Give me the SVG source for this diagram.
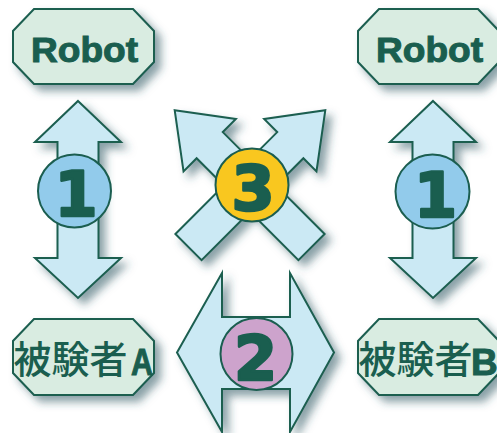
<svg xmlns="http://www.w3.org/2000/svg" width="497" height="433" viewBox="0 0 497 433">
<defs>
<filter id="sh" x="-30%" y="-30%" width="160%" height="160%">
<feGaussianBlur in="SourceAlpha" stdDeviation="4"/>
<feOffset dx="6" dy="6" result="b"/>
<feFlood flood-color="#2b5560" flood-opacity="0.55"/>
<feComposite in2="b" operator="in"/>
<feMerge><feMergeNode/><feMergeNode in="SourceGraphic"/></feMerge>
</filter>
</defs>
<style>
.box{fill:#d9ece1;stroke:#1b5e50;stroke-width:2;filter:url(#sh)}
.arr{fill:#cbe9f4;stroke:#1b5e50;stroke-width:2;stroke-linejoin:miter}
.shd{filter:url(#sh)}
.circ{stroke:#1b5e50;stroke-width:2}
.lbl{font-family:"Liberation Sans",Arial,sans-serif;font-weight:bold;fill:#1a5e4f;stroke:#1a5e4f;stroke-width:1}
.cjk{font-family:"Noto Sans CJK JP","Noto Sans CJK SC",sans-serif;font-weight:500;fill:#1a5e4f}
.num{font-family:"DejaVu Sans",sans-serif;font-weight:bold;font-size:62px;fill:#1a5e4f;stroke:#1a5e4f;stroke-width:2.5;stroke-linejoin:round;text-anchor:middle}
</style>
<rect width="497" height="433" fill="#ffffff"/>
<g id="connectors">
<g id="arrow-1-left">
<path class="arr shd" d="M78,101 L121,142 L98.5,142 L98.5,258 L121,258 L78,298 L35,258 L57.5,258 L57.5,142 L35,142 Z"/>
<circle class="circ" cx="74.5" cy="191" r="36.5" fill="#92cbeb"/>
<text class="num" x="76" y="216">1</text>
</g>
<g id="arrow-1-right">
<path class="arr shd" d="M433,101 L476,142 L453.5,142 L453.5,258 L476,258 L433,298 L390,258 L412.5,258 L412.5,142 L390,142 Z"/>
<circle class="circ" cx="432.5" cy="191.5" r="37" fill="#92cbeb"/>
<text class="num" x="435.5" y="217">1</text>
</g>
<g id="arrow-3">
<g class="shd"><g transform="translate(250,185.5)">
<path class="arr" transform="rotate(-45)" d="M0,-106.5 L37,-57 L18.5,-57 L18.5,87 L-18.5,87 L-18.5,-57 L-37,-57 Z"/>
<path class="arr" transform="rotate(45)" d="M0,-106.5 L37,-57 L18.5,-57 L18.5,87 L-18.5,87 L-18.5,-57 L-37,-57 Z"/>
</g></g>
<circle class="circ" cx="252" cy="185" r="36.5" fill="#f9c71f"/>
<text class="num" x="253" y="210">3</text>
</g>
<g id="arrow-2">
<path class="arr shd" d="M177,352.5 L222,273 L222,317 L290,317 L290,273 L334,352.5 L290,432 L290,389 L222,389 L222,432 Z"/>
<circle class="circ" cx="256.5" cy="354" r="36" fill="#cda3cc"/>
<text class="num" x="255.5" y="380">2</text>
</g>
</g>
<g id="robot-left">
<path class="box" d="M34,9 L133,9 L154,31 L154,62 L133,84 L34,84 L13,62 L13,31 Z"/>
<text class="lbl" x="31" y="62" font-size="35" textLength="107" lengthAdjust="spacingAndGlyphs">Robot</text>
</g>
<g id="robot-right">
<path class="box" d="M379,9 L478,9 L499,31 L499,62 L478,84 L379,84 L358,62 L358,31 Z"/>
<text class="lbl" x="376" y="62" font-size="35" textLength="107" lengthAdjust="spacingAndGlyphs">Robot</text>
</g>
<g id="subject-a">
<path class="box" d="M34,319 L133,319 L154,341 L154,373 L133,395 L34,395 L13,373 L13,341 Z"/>
<text class="cjk" x="13.5" y="373" font-size="38">被験者</text>
<text class="lbl" x="131" y="375" font-size="37" textLength="22" lengthAdjust="spacingAndGlyphs">A</text>
</g>
<g id="subject-b">
<path class="box" d="M379,319 L478,319 L499,341 L499,373 L478,395 L379,395 L358,373 L358,341 Z"/>
<text class="cjk" x="358.5" y="373" font-size="38">被験者</text>
<text class="lbl" x="471" y="375" font-size="37">B</text>
</g>
</svg>
